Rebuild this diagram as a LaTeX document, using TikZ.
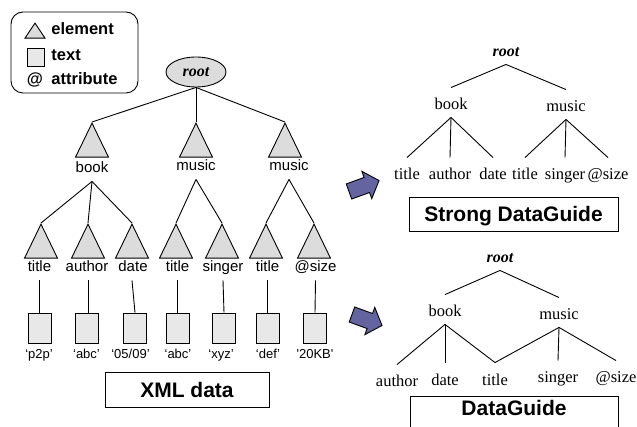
\documentclass[tikz,border=0pt]{standalone}
\usepackage{fontspec}
\newfontfamily\arialf{Liberation Sans}
\newfontfamily\timesf{Liberation Serif}
\usetikzlibrary{shapes.geometric}
\definecolor{trigray}{HTML}{DCDCDC}
\definecolor{boxgray}{HTML}{E8E8E8}
\definecolor{arrowblue}{HTML}{6464A0}
\tikzset{
  tri/.style={isosceles triangle, isosceles triangle stretches, shape border rotate=90,
    minimum width=33, minimum height=34, inner sep=0, draw, fill=trigray},
  lbl/.style={font=\arialf\fontsize{15}{15}\selectfont, inner sep=0, text height=11, text depth=8, anchor=base},
  val/.style={font=\arialf\fontsize{13}{13}\selectfont, inner sep=0, anchor=base},
  vbox/.style={draw, fill=boxgray, minimum width=23, minimum height=30, inner sep=0},
  bigbox/.style={draw, font=\arialf\bfseries\fontsize{21}{21}\selectfont, inner xsep=0, inner ysep=0, text height=15, text depth=0},
  rlbl/.style={font=\timesf\fontsize{16.5}{16.5}\selectfont, inner sep=0, text height=22, text depth=7, anchor=base},
  rroot/.style={font=\timesf\bfseries\itshape\fontsize{16}{16}\selectfont, inner sep=0, text height=22, text depth=7, anchor=base},
  leg/.style={font=\arialf\bfseries\fontsize{16.5}{16.5}\selectfont, inner sep=0, anchor=base west},
  bigarrow/.style={draw, fill=arrowblue, line width=0.9pt, line join=miter}
}
\begin{document}
\begin{tikzpicture}[x=1pt,y=-1pt,line width=0.9pt]
\useasboundingbox (0,0) rectangle (637,427);
\clip (0,0) rectangle (637,427);

% legend
\node[draw, rounded corners=12, minimum width=127, minimum height=81, inner sep=0] (legend) at (74.5,52.5) {};
\node[tri, minimum width=20, minimum height=15, anchor=apex] (legtri) at (35,22) {};
\node[leg] (legel) at (51,35) {element};
\node[vbox, minimum width=17, minimum height=18] (legbox) at (35.5,57) {};
\node[leg] (legtx) at (51,61) {text};
\node[leg, anchor=base] (legat) at (35,85) {@};
\node[leg] (legattr) at (51,85) {attribute};

% XML tree
\node[ellipse, draw, fill=trigray, minimum width=60, minimum height=30, inner sep=0,
  font=\timesf\bfseries\itshape\fontsize{16}{16}\selectfont] (root) at (196,72) {root};

\node[tri, anchor=apex] (tbook) at (92,122) {};
\node[tri, anchor=apex] (tmus1) at (196,122) {};
\node[tri, anchor=apex] (tmus2) at (285,122) {};
\node[lbl] (book) at (92,173) {book};
\node[lbl] (mus1) at (196,171) {music};
\node[lbl] (mus2) at (289,171) {music};
\draw (root.south) -- (tbook.apex);
\draw (root.south) -- (tmus1.apex);
\draw (root.south) -- (tmus2.apex);

\node[tri, anchor=apex] (t1) at (41,223) {};
\node[tri, anchor=apex] (t2) at (88,223) {};
\node[tri, anchor=apex] (t3) at (132,223) {};
\node[tri, anchor=apex] (t4) at (176,223) {};
\node[tri, anchor=apex] (t5) at (222,223) {};
\node[tri, anchor=apex] (t6) at (266,223) {};
\node[tri, anchor=apex] (t7) at (314,223) {};

\draw (book.south) -- (t1.apex);
\draw (book.south) -- (t2.apex);
\draw (book.south) -- (t3.apex);
\draw (mus1.south) -- (t4.apex);
\draw (mus1.south) -- (t5.apex);
\draw (mus2.south) -- (t6.apex);
\draw (mus2.south) -- (t7.apex);

\node[lbl] (l1) at (39.5,272) {title};
\node[lbl] (l2) at (87,272) {author};
\node[lbl] (l3) at (133,272) {date};
\node[lbl] (l4) at (177.5,272) {title};
\node[lbl] (l5) at (223,272) {singer};
\node[lbl] (l6) at (267.5,272) {title};
\node[lbl] (l7) at (315.5,272) {@size};

\node[vbox] (b1) at (39.5,328) {};
\node[vbox] (b2) at (86.5,328) {};
\node[vbox] (b3) at (135,328) {};
\node[vbox] (b4) at (177.5,328) {};
\node[vbox] (b5) at (224,328) {};
\node[vbox] (b6) at (267.5,328) {};
\node[vbox] (b7) at (315,328) {};

\draw ([xshift=0]l1.south) -- (b1.north);
\draw ([xshift=1]l2.south) -- ([xshift=1.5]b2.north);
\draw ([xshift=-1]l3.south) -- (b3.north);
\draw (l4.south) -- (b4.north);
\draw (l5.south) -- (b5.north);
\draw (l6.south) -- (b6.north);
\draw (l7.south) -- (b7.north);

\node[val] (v1) at (39,359) {‘p2p’};
\node[val] (v2) at (86.5,359) {‘abc’};
\node[val] (v3) at (130.5,359) {‘05/09’};
\node[val] (v4) at (178,359) {‘abc’};
\node[val] (v5) at (221,359) {‘xyz’};
\node[val] (v6) at (268,359) {‘def’};
\node[val] (v7) at (315,359) {'20KB'};

\node[bigbox, minimum width=164, minimum height=35] (xml) at (187,389.5) {XML data};

% arrows
\draw[bigarrow, shift={(364,186)}, rotate=20]
  (-16,-8) -- (3,-8) -- (3,-14.5) -- (16,0) -- (3,14.5) -- (3,8) -- (-16,8) -- cycle;
\draw[bigarrow, shift={(367,320)}, rotate=-20]
  (-16,-8) -- (3,-8) -- (3,-14.5) -- (16,0) -- (3,14.5) -- (3,8) -- (-16,8) -- cycle;

% Strong DataGuide
\node[rroot] (sroot) at (506,57) {root};
\node[rlbl] (sbook) at (451,110) {book};
\node[rlbl] (smus) at (566,112) {music};
\node[rlbl] (s1) at (407,180) {title};
\node[rlbl] (s2) at (450,180) {author};
\node[rlbl] (s3) at (493,180) {date};
\node[rlbl] (s4) at (525,180) {title};
\node[rlbl] (s5) at (565,180) {singer};
\node[rlbl] (s6) at (608,180) {@size};
\draw (sroot.south) -- (sbook.north);
\draw (sroot.south) -- (smus.north);
\draw (sbook.south) -- (s1.north);
\draw (sbook.south) -- (s2.north);
\draw (sbook.south) -- (s3.north);
\draw (smus.south) -- (s4.north);
\draw (smus.south) -- (s5.north);
\draw (smus.south) -- (s6.north);
\node[bigbox, minimum width=209, minimum height=34] (sdg) at (513.5,214) {Strong DataGuide};

% DataGuide
\node[rroot] (droot) at (500,263) {root};
\node[rlbl] (dbook) at (445,317) {book};
\node[rlbl] (dmus) at (559,320) {music};
\node[rlbl] (d1) at (397,387) {author};
\node[rlbl] (d2) at (445,385) {date};
\node[rlbl] (d3) at (495,385) {title};
\node[rlbl] (d4) at (558,383) {singer};
\node[rlbl] (d5) at (616,383) {@size};
\draw (droot.south) -- (dbook.north);
\draw (droot.south) -- (dmus.north);
\draw (dbook.south) -- (d1.north);
\draw (dbook.south) -- (d2.north);
\draw (dbook.south) -- (d3.north);
\draw (dmus.south) -- (d3.north);
\draw (dmus.south) -- (d4.north);
\draw (dmus.south) -- (d5.north);
\node[bigbox, minimum width=208, text height=19, text depth=35, anchor=north] (dg) at (514,396) {DataGuide};
\end{tikzpicture}
\end{document}
